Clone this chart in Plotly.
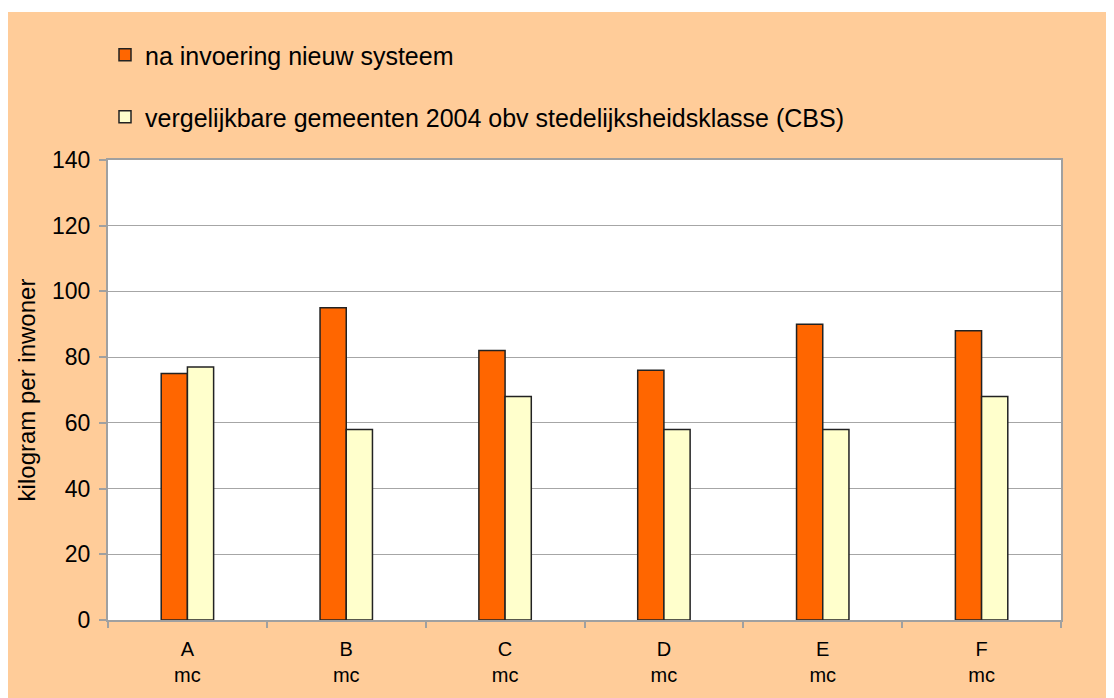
import plotly.graph_objects as go

categories = ["A<br>mc", "B<br>mc", "C<br>mc", "D<br>mc", "E<br>mc", "F<br>mc"]
na_invoering = [75, 95, 82, 76, 90, 88]
vergelijkbaar = [77, 58, 68, 58, 58, 68]
y_ticks = [0, 20, 40, 60, 80, 100, 120, 140]

name1 = "na invoering nieuw systeem"
name2 = "vergelijkbare gemeenten 2004 obv stedelijksheidsklasse (CBS)"

fig = go.Figure()
fig.add_trace(go.Bar(x=categories, y=na_invoering, name=name1,
                     marker=dict(color="#FF6600", line=dict(color="#222222", width=1.5)),
                     legend="legend2", showlegend=True))
fig.add_trace(go.Bar(x=categories, y=vergelijkbaar, name=name2,
                     marker=dict(color="#FFFFCC", line=dict(color="#222222", width=1.5)),
                     legend="legend3", showlegend=True))

W, H = 1106, 690
L, R, T, B = 100, 1053, 152, 612
pw, ph = R - L, B - T
def px(x): return (x - L) / pw
def py(y): return (B - y) / ph

FONT = "Liberation Sans, Arial, sans-serif"

fig.update_layout(
    width=W, height=H,
    margin=dict(l=L, r=W - R, t=T, b=H - B, pad=0),
    paper_bgcolor="white",
    plot_bgcolor="white",
    barmode="group",
    bargap=0.67,
    bargroupgap=0,
    showlegend=True,
    font=dict(family=FONT, color="black"),
    shapes=[
        dict(type="rect", xref="paper", yref="paper", x0=px(-2), x1=px(W + 2), y0=py(H + 2), y1=py(4),
             fillcolor="#FFCC99", line=dict(width=0), layer="below"),
        dict(type="rect", xref="paper", yref="paper", x0=0, x1=1, y0=0, y1=1,
             fillcolor="white", line=dict(width=0), layer="below"),
    ],
    legend2=dict(x=px(97), y=py(47), xanchor="left", yanchor="middle",
                 bgcolor="rgba(0,0,0,0)", font=dict(size=25, family=FONT), itemclick=False),
    legend3=dict(x=px(97), y=py(109), xanchor="left", yanchor="middle",
                 bgcolor="rgba(0,0,0,0)", font=dict(size=25, family=FONT), itemclick=False),
    xaxis=dict(
        type="category", tickson="boundaries", ticks="outside", ticklen=6,
        tickcolor="#A0A0A0", tickwidth=2,
        showline=True, linecolor="#A0A0A0", linewidth=2, mirror=True,
        tickfont=dict(size=20), showgrid=False, ticklabelstandoff=10,
    ),
    yaxis=dict(
        range=[0, 140], tickvals=y_ticks, ticks="outside", ticklen=7,
        tickcolor="#A0A0A0", tickwidth=2,
        showline=True, linecolor="#A0A0A0", linewidth=2, mirror=True,
        showgrid=True, gridcolor="#A6A6A6", gridwidth=1,
        tickfont=dict(size=23), zeroline=False, ticklabelstandoff=4,
        title=dict(text="kilogram per inwoner", font=dict(size=24), standoff=10),
    ),
)

fig.write_html("out.html")
